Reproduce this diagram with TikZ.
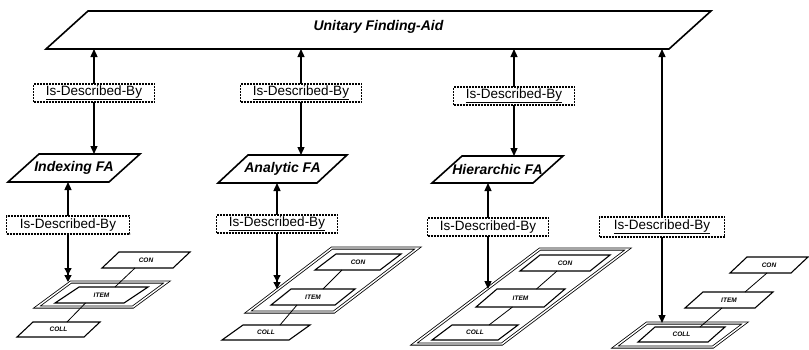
\documentclass[tikz,border=0pt]{standalone}
\usepackage{fontspec}
\setmainfont{Liberation Sans}
\usetikzlibrary{arrows.meta,backgrounds,calc}
\newcommand\pgpath[3]{%
  \path[#1] ($(#2.south west)+(-#3,0)$) -- ($(#2.north west)+(#3,0)$) -- ($(#2.north east)+(#3,0)$) -- ($(#2.south east)+(-#3,0)$) -- cycle;}
\begin{document}
\begin{tikzpicture}[x=1pt,y=-1pt,
  pgn/.style={rectangle, inner sep=0pt, outer sep=0pt},
  big/.style={pgn, font=\fontsize{14}{16}\selectfont\bfseries\itshape},
  fa/.style={pgn, font=\fontsize{14}{16}\selectfont\bfseries\itshape},
  sm/.style={pgn, minimum height=16pt, font=\fontsize{6.5}{7}\selectfont\bfseries\itshape},
  grp/.style={pgn},
  pgd/.style={draw=black, fill=white, line width=1.6pt, line join=miter},
  smd/.style={draw=black, fill=white, line width=1.1pt},
  grd/.style={draw=black, line width=0.8pt, double, double distance=1.4pt},
  rel/.style={draw=black, fill=white, line width=1.1pt, dash pattern=on 2pt off 1pt, minimum width=121pt, minimum height=18pt, inner sep=0pt, font=\fontsize{13.5}{15}\selectfont},
  arr/.style={line width=1.3pt, {Triangle[length=8pt,width=7pt]}-{Triangle[length=8pt,width=7pt]}},
  arr2/.style={line width=1.3pt, {Triangle[length=8pt,width=7pt]}-{Triangle[length=7pt,width=7pt]Triangle[length=7pt,width=7pt]}},
  link/.style={line width=0.8pt}
]
\useasboundingbox (0,0) rectangle (809,349);

% top finding aid
\node[big, minimum width=623pt, minimum height=38pt, text depth=10pt] (ufa) at (378.5,30) {Unitary Finding-Aid};

% finding aids
\node[fa, minimum width=101pt, minimum height=28pt] (fa1) at (74,168) {Indexing FA};
\node[fa, minimum width=99pt, minimum height=28pt] (fa2) at (282.5,169) {Analytic FA};
\node[fa, minimum width=101pt, minimum height=27pt] (fa3) at (497.5,169.5) {Hierarchic FA};

% relation boxes
\node[rel] (u1) at (94,93) {\underline{Is-Described-By}};
\node[rel] (u2) at (301,93) {\underline{Is-Described-By}};
\node[rel] (u3) at (514,96) {\underline{Is-Described-By}};
\node[rel, minimum width=123pt] (l1) at (68,225) {Is-Described-By};
\node[rel] (l2) at (277,224) {\underline{Is-Described-By}};
\node[rel] (l3) at (488,227) {Is-Described-By};
\node[rel, minimum width=125pt, minimum height=20pt] (l4) at (662,227) {\underline{Is-Described-By}};

% indexing group
\node[grp, minimum width=96pt, minimum height=25pt] (g1) at (102,294.5) {};
\node[sm, minimum width=69pt] (i1) at (101.5,295) {ITEM};
\node[sm, minimum width=71pt] (c1) at (146,260) {CON};
\node[sm, minimum width=67pt, minimum height=15pt] (k1) at (58.5,329.5) {COLL};

% analytic group
\node[grp, minimum width=86pt, minimum height=64pt] (g2) at (333,280) {};
\node[sm, minimum width=65pt] (c2) at (358,262) {CON};
\node[sm, minimum width=64pt] (i2) at (313,297) {ITEM};
\node[sm, minimum width=67pt, minimum height=15pt] (k2) at (266,332.5) {COLL};

% hierarchic group
\node[grp, minimum width=88pt, minimum height=95pt] (g3) at (521,296.5) {};
\node[sm, minimum width=70pt] (c3) at (565,263) {CON};
\node[sm, minimum width=68pt, minimum height=18pt] (i3) at (520.5,298) {ITEM};
\node[sm, minimum width=66pt, minimum height=15pt] (k3) at (475,332.5) {COLL};

% right group
\node[grp, minimum width=98pt, minimum height=24pt] (g4) at (680,335) {};
\node[sm, minimum width=70pt, minimum height=15pt] (k4) at (681.5,334.5) {COLL};
\node[sm, minimum width=70pt] (i4) at (729,300) {ITEM};
\node[sm, minimum width=61pt] (c4) at (769,265) {CON};

% links between parts
\draw[link] ($(c1.south)+(-11,0)$) -- ($(i1.north)+(13.5,0)$);
\draw[link] ($(i1.south)+(-16,0)$) -- ($(k1.north)+(8.5,0)$);
\draw[link] ($(c2.south)+(-16,0)$) -- ($(i2.north)+(10,0)$);
\draw[link] ($(i2.south)+(-16,0)$) -- ($(k2.north)+(14,0)$);
\draw[link] ($(c3.south)+(-8,0)$) -- ($(i3.north)+(16,0)$);
\draw[link] ($(i3.south)+(-8,0)$) -- ($(k3.north)+(14,0)$);
\draw[link] ($(c4.south)+(-2,0)$) -- ($(i4.north)+(16,0)$);
\draw[link] ($(i4.south)+(-7,0)$) -- ($(k4.north)+(18.5,0)$);

\begin{scope}[on background layer]
% parallelogram outlines
\pgpath{pgd}{ufa}{21}
\pgpath{pgd}{fa1}{15.5}
\pgpath{pgd}{fa2}{15}
\pgpath{pgd}{fa3}{15}
\pgpath{grd}{g1}{17}
\pgpath{grd}{g2}{42}
\pgpath{grd}{g3}{63}
\pgpath{grd}{g4}{16}
\pgpath{smd}{c1}{8.5}
\pgpath{smd}{i1}{12}
\pgpath{smd}{k1}{8}
\pgpath{smd}{c2}{10.5}
\pgpath{smd}{i2}{10}
\pgpath{smd}{k2}{10.5}
\pgpath{smd}{c3}{10}
\pgpath{smd}{i3}{10.5}
\pgpath{smd}{k3}{10}
\pgpath{smd}{k4}{8.5}
\pgpath{smd}{i4}{9}
\pgpath{smd}{c4}{8.5}
% arrows
\draw[arr] (u1 |- ufa.south) -- (u1 |- fa1.north);
\draw[arr] (u2 |- ufa.south) -- (u2 |- fa2.north);
\draw[arr] (u3 |- ufa.south) -- (u3 |- fa3.north);
\draw[arr] (l4 |- ufa.south) -- (l4 |- g4.north);
\draw[arr2] (l1 |- fa1.south) -- (l1 |- g1.north);
\draw[arr2] (l2 |- fa2.south) -- (l2 |- i2.north);
\draw[arr] (l3 |- fa3.south) -- (l3 |- i3.north);
\end{scope}
\end{tikzpicture}
\end{document}
